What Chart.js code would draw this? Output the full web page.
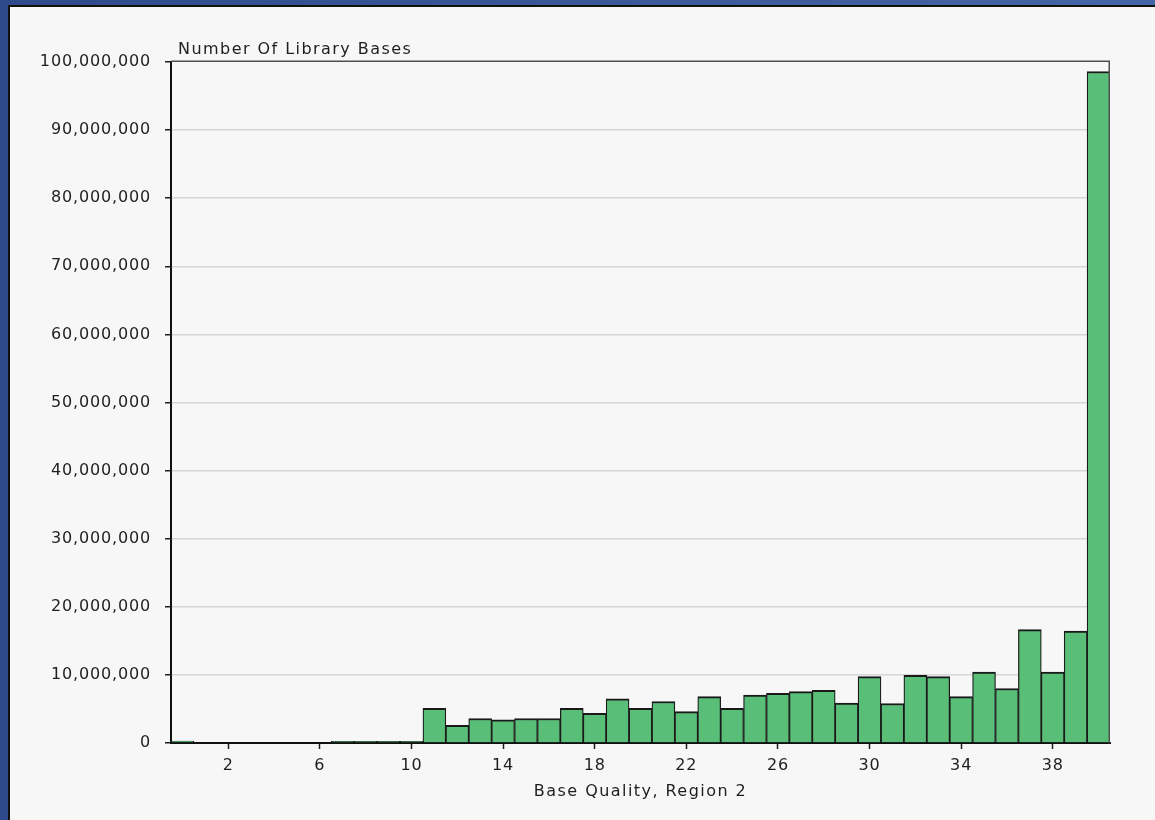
<!DOCTYPE html>
<html>
<head>
<meta charset="utf-8">
<title>Base Quality, Region 2</title>
<script src="https://cdn.jsdelivr.net/npm/chart.js@4.4.1/dist/chart.umd.min.js"></script>
<style>
  html, body { margin: 0; padding: 0; width: 1155px; height: 820px; overflow: hidden; }
  body { background: linear-gradient(to right, #2e4a8a, #4566a6); position: relative; }
  #panel { position: absolute; left: 8px; top: 5px; right: 0; bottom: 0;
           background: #f7f7f7; border-left: 2px solid #111; border-top: 2px solid #111; }
  #chart { position: absolute; left: 0; top: 0; }
</style>
</head>
<body>
<div id="panel"></div>
<canvas id="chart" width="1155" height="820"></canvas>
<script>
// Base quality scores (x categories)
const qualities = [0, 1, 2, 3, 4, 5, 6, 7, 8, 9, 10, 11, 12, 13, 14, 15, 16, 17, 18, 19, 20,
                   21, 22, 23, 24, 25, 26, 27, 28, 29, 30, 31, 32, 33, 34, 35, 36, 37, 38, 39, 40];
// Number of library bases per quality score
const baseCounts = [300000, 0, 0, 0, 0, 0, 0, 250000, 250000, 250000, 250000,
                    5100000, 2600000, 3600000, 3400000, 3600000, 3600000, 5100000, 4350000, 6500000, 5100000,
                    6100000, 4600000, 6800000, 5100000, 7050000, 7300000, 7550000, 7750000, 5850000, 9750000,
                    5800000, 9950000, 9750000, 6800000, 10400000, 8000000, 16650000, 10400000, 16450000, 98600000];
// Labelled positions on the quality axis
const xTickLabels = [2, 6, 10, 14, 18, 22, 26, 30, 34, 38];
const yMax = 100000000;
const yStep = 10000000;

const yTitle = 'Number Of Library Bases';
const xTitle = 'Base Quality, Region 2';
const FONT = '"DejaVu Sans", Verdana, sans-serif';
const TEXT_COLOR = '#1e1e1e';

const framePlugin = {
  id: 'frame',
  beforeDraw(chart) {
    chart.ctx.letterSpacing = '0.85px';
  },
  afterDatasetsDraw(chart) {
    const { ctx, chartArea: a } = chart;
    ctx.save();
    ctx.strokeStyle = '#505050';
    ctx.lineWidth = 1.5;
    ctx.beginPath();
    ctx.moveTo(a.left, a.top - 0.75);
    ctx.lineTo(a.right - 0.75, a.top - 0.75);
    ctx.lineTo(a.right - 0.75, a.bottom);
    ctx.stroke();
    ctx.restore();
  },
  afterDraw(chart) {
    const { ctx, chartArea: a } = chart;
    ctx.save();
    ctx.letterSpacing = '1.45px';
    ctx.fillStyle = TEXT_COLOR;
    ctx.font = '16px ' + FONT;
    ctx.textBaseline = 'alphabetic';
    ctx.textAlign = 'left';
    ctx.fillText(yTitle, a.left + 7, a.top - 8);
    ctx.textAlign = 'center';
    ctx.fillText(xTitle, (a.left + a.right) / 2, a.bottom + 53);
    ctx.restore();
    ctx.letterSpacing = '0px';
  }
};

new Chart(document.getElementById('chart'), {
  type: 'bar',
  data: {
    labels: qualities,
    datasets: [{
      data: baseCounts,
      backgroundColor: '#59be78',
      borderColor: '#1a1a1a',
      borderWidth: { top: 2, left: 1.25, right: 1.25, bottom: 0 },
      borderSkipped: false,
      barPercentage: 1,
      categoryPercentage: 1
    }]
  },
  options: {
    responsive: false,
    animation: false,
    devicePixelRatio: 1,
    layout: { padding: { left: 0, top: 62, right: 45, bottom: 0 } },
    plugins: { legend: { display: false }, tooltip: { enabled: false }, title: { display: false } },
    scales: {
      x: {
        type: 'category',
        offset: true,
        afterFit(scale) { scale.height = 77; },
        grid: {
          offset: false,
          drawOnChartArea: false,
          drawTicks: true,
          tickLength: 6,
          tickWidth: 1.5,
          tickColor: (c) => xTickLabels.includes(qualities[c.index]) ? '#1e1e1e' : 'rgba(0,0,0,0)'
        },
        border: { display: true, color: '#111', width: 2 },
        ticks: {
          autoSkip: false,
          maxRotation: 0,
          minRotation: 0,
          padding: 7,
          color: TEXT_COLOR,
          font: { family: FONT, size: 16 },
          callback: (v, i) => xTickLabels.includes(qualities[i]) ? String(qualities[i]) : ''
        }
      },
      y: {
        min: 0,
        max: yMax,
        afterFit(scale) { scale.width = 171; },
        grid: {
          color: (c) => (c.tick && (c.tick.value === 0 || c.tick.value === yMax)) ? 'rgba(0,0,0,0)' : '#d6d6d6',
          lineWidth: 1.5,
          drawTicks: true,
          tickLength: 6,
          tickWidth: 1.5,
          tickColor: '#1e1e1e'
        },
        border: { display: true, color: '#111', width: 2 },
        ticks: {
          stepSize: yStep,
          autoSkip: false,
          padding: 14,
          color: TEXT_COLOR,
          font: { family: FONT, size: 16 },
          callback: (v) => Number(v).toLocaleString('en-US')
        }
      }
    }
  },
  plugins: [framePlugin]
});
</script>
</body>
</html>
